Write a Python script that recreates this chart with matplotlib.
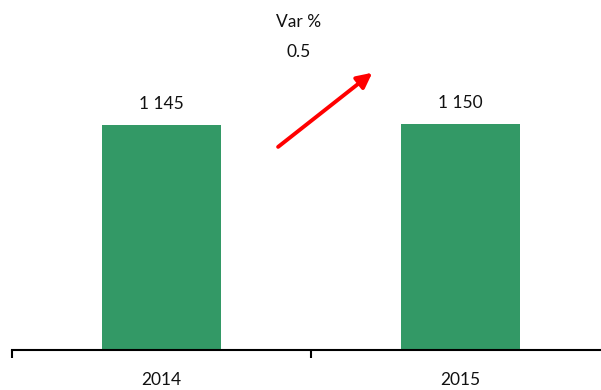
import matplotlib
matplotlib.use("Agg")
import matplotlib.pyplot as plt

years = ["2014", "2015"]
values = [1145, 1150]
var_pct = 0.5

plt.rcParams["font.family"] = ["Lato", "DejaVu Sans"]

fig = plt.figure(figsize=(6.01, 3.90), dpi=100)
ax = fig.add_axes([12 / 601, 40 / 390, 598 / 601, 350 / 390])

x = list(range(len(years)))
ax.bar(x, values, width=0.4, color="#339966")

ax.set_xlim(-0.5, len(years) - 0.5)
ax.set_ylim(0, 1780)

for xi, v in zip(x, values):
    label = f"{v:,}".replace(",", " ")
    ax.annotate(label, (xi, v), xytext=(0, 9), textcoords="offset points",
                ha="center", va="bottom", fontsize=12.5, color="#111111")

# boundary ticks between categories, labels centred under each bar
ax.set_xticks([i - 0.5 for i in range(len(years) + 1)])
ax.set_xticklabels([])
ax.set_xticks(x, minor=True)
ax.set_xticklabels(years, minor=True, fontsize=12.5, color="#111111")
ax.tick_params(axis="x", which="major", length=6, width=1.5, color="black", direction="out")
ax.tick_params(axis="x", which="minor", length=0, pad=16)

ax.set_yticks([])
for side in ["top", "right", "left"]:
    ax.spines[side].set_visible(False)
ax.spines["bottom"].set_linewidth(1.5)

# change arrow between the two bars
ax.annotate("", xy=(0.705, 1410), xytext=(0.39, 1033),
            arrowprops=dict(arrowstyle="-|>,head_length=0.9,head_width=0.45",
                            color="#ff0000", lw=2.8, shrinkA=0, shrinkB=0))

ax.text(0.457, 1670, "Var %", ha="center", va="center", fontsize=12.5, color="#111111")
ax.text(0.457, 1517, f"{var_pct:.1f}", ha="center", va="center", fontsize=12.5, color="#111111")

fig.savefig("out.png", dpi=100)
